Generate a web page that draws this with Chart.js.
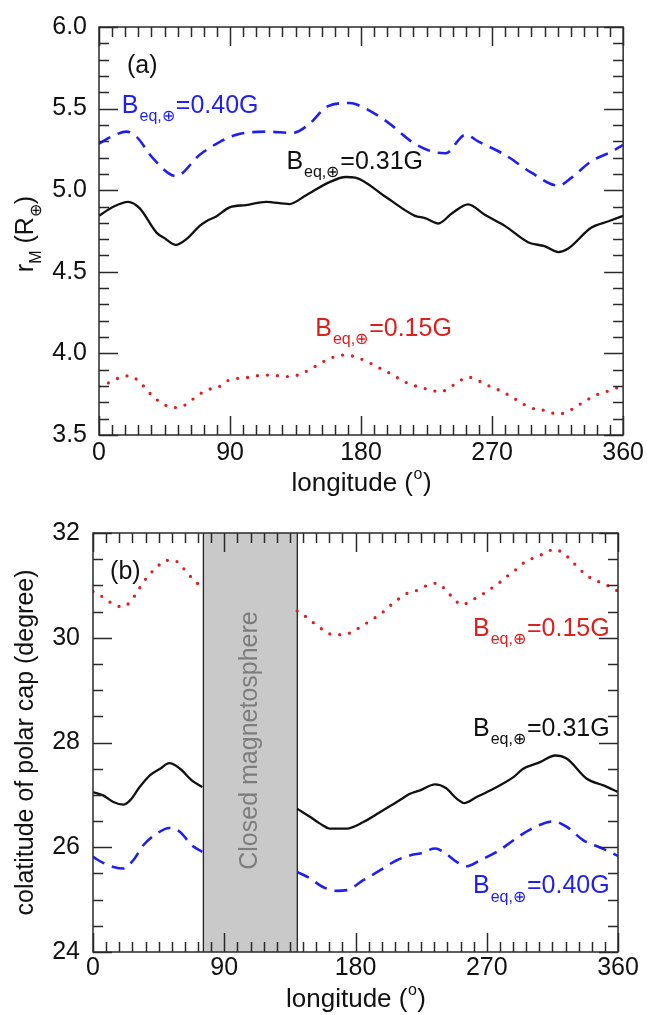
<!DOCTYPE html>
<html><head><meta charset="utf-8">
<script src="https://cdn.jsdelivr.net/npm/chart.js@4.4.1/dist/chart.umd.min.js"></script>
<style>
html,body{margin:0;padding:0;background:#fff;}
#wrap{position:relative;width:647px;height:1015px;background:#fff;}
canvas{position:absolute;left:0;}
</style></head><body>
<div id="wrap">
<canvas id="ca" width="647" height="505" style="top:0px"></canvas>
<canvas id="cb" width="647" height="510" style="top:505px"></canvas>
</div>
<script>
// ---------- Panel (a): magnetopause standoff distance r_M vs longitude ----------
const lonA_031 = [0,9.8,20,28,39.5,46,52.7,60,69,73.7,80.5,89.7,101,114.8,130.7,142,158,169.5,176,197,217,224,233,242.5,253.5,265,279,295,306,315.5,322,338,350,360];
const rA_031   = [4.843,4.899,4.929,4.889,4.740,4.700,4.665,4.700,4.780,4.810,4.839,4.895,4.909,4.929,4.915,4.968,5.048,5.081,5.077,4.958,4.843,4.829,4.796,4.859,4.913,4.849,4.780,4.680,4.657,4.621,4.641,4.770,4.810,4.843];

const lonA_040 = [0,9,19,26,37,53,69,83,94,115,133,144.4,157,171.8,176,197,215,229,238,251.6,261,279,297,315.5,324.6,338,352,360];
const rA_040   = [5.285,5.330,5.359,5.325,5.196,5.087,5.216,5.296,5.339,5.359,5.351,5.405,5.514,5.534,5.528,5.425,5.296,5.236,5.226,5.339,5.296,5.216,5.107,5.028,5.077,5.177,5.236,5.278];

const lonA_015 = [0,7,14,21,27,32,37,43,50,56.6,62.7,68.7,75,82,88.5,95,102.7,110,117.5,125,132,139,146,152,159,166,173,180,187,193.5,200,206.5,213,220,227,234.5,241,247,253.5,260,267,274,280.6,287,293,300,307.5,314,321,327.6,334,340.6,348,354,360];
const rA_015   = [3.798,3.821,3.851,3.863,3.832,3.786,3.736,3.698,3.668,3.673,3.708,3.748,3.778,3.794,3.833,3.847,3.853,3.865,3.867,3.861,3.857,3.877,3.907,3.940,3.970,3.990,3.986,3.966,3.937,3.907,3.877,3.843,3.813,3.794,3.778,3.764,3.792,3.827,3.855,3.835,3.804,3.778,3.748,3.714,3.682,3.658,3.649,3.629,3.639,3.674,3.708,3.742,3.764,3.784,3.800];

// ---------- Panel (b): colatitude of polar cap vs longitude ----------
const lonB_015 = [0,6.6,12.8,20,25.8,30,34,38.4,43.7,49.4,55.6,61.5,66.5,71.5,75,108,140,146,151.8,158,164.8,172,179,185.4,191.6,198,203.7,209.4,215.6,222.4,229.3,236,242,247,253,259.7,266,272.3,278.5,284,290,295.6,302.5,309.3,316.2,322.6,327.8,333.3,339,345.5,352,358.7,360];
const cB_015   = [30.882,30.781,30.660,30.590,30.692,30.863,31.035,31.200,31.340,31.479,31.479,31.340,31.181,31.041,30.940,null,30.514,30.400,30.273,30.146,30.057,30.057,30.133,30.241,30.352,30.470,30.610,30.737,30.851,30.908,31.003,31.041,30.908,30.756,30.629,30.718,30.813,30.927,31.048,31.175,31.302,31.434,31.530,31.606,31.689,31.613,31.479,31.321,31.181,31.086,31.010,30.908,30.890];

const lonB_031 = [0,7,14,20.8,25.4,32,39,46,52.3,59.7,67.7,75,108,140,149,155.7,162.5,174,185.4,197,208.3,217.4,224.3,234.6,242,249.4,254.5,263,274.6,288.3,295,306.6,316.9,325,338.6,350,360];
const cB_031   = [27.053,26.990,26.863,26.813,26.895,27.149,27.371,27.499,27.606,27.499,27.276,27.149,null,26.737,26.578,26.451,26.356,26.356,26.482,26.673,26.863,27.022,27.086,27.200,27.130,26.927,26.844,26.958,27.117,27.339,27.499,27.625,27.752,27.689,27.308,27.181,27.053];

const lonB_040 = [0,7,14,20.8,27.6,34.5,43.7,52.3,59.7,67.7,75,108,140,149,157,167,174,185.4,197,208.3,219.7,224.3,234.6,241.4,249.4,256.3,265.4,276.9,288.3,299.7,315.7,324.9,336.3,347.7,356.9,360];
const cB_040   = [25.815,25.701,25.625,25.594,25.752,26.038,26.260,26.368,26.292,26.038,25.911,null,25.530,25.403,25.250,25.168,25.181,25.371,25.562,25.752,25.861,25.880,25.975,25.892,25.720,25.638,25.752,25.911,26.133,26.337,26.495,26.387,26.133,25.994,25.880,25.830];

// closed magnetosphere longitude band
const closedBand = [75.7, 140.1];

// axis ticks
const lonTickStep = 90, lonMinorStep = 9;
const rTickStep = 0.5, rMinorStep = 0.1;
const cTickStep = 2, cMinorStep = 0.5;

const FONT = '"Liberation Sans", Arial, Helvetica, sans-serif';
const BLACK = '#111111', BLUE = '#1f1ff0', RED = '#dc1f1f';

function pts(xs, ys){ return xs.map((x,i)=>({x:x, y:ys[i]})); }

function drawB(ctx, x, y, color, rest, size){
  ctx.save();
  ctx.fillStyle = color; ctx.textAlign='left'; ctx.textBaseline='alphabetic';
  ctx.font = size+'px '+FONT;
  ctx.fillText('B', x, y);
  const w1 = ctx.measureText('B').width;
  const ss = Math.round(size*0.62);
  ctx.font = ss+'px '+FONT;
  ctx.fillText('eq,\u2295', x+w1+1, y+size*0.34);
  const w2 = ctx.measureText('eq,\u2295').width;
  ctx.font = size+'px '+FONT;
  ctx.fillText(rest, x+w1+w2+2, y);
  ctx.restore();
}

const textPlugin = {
  id:'texts',
  afterDatasetsDraw(chart, args, opts){
    const ctx = chart.ctx, xs = chart.scales.x, ys = chart.scales.y;
    (opts.items||[]).forEach(it=>{
      const px = xs.getPixelForValue(it.lon), py = ys.getPixelForValue(it.val);
      if (it.kind==='B') drawB(ctx, px, py, it.color, it.text, 25);
      else {
        ctx.save(); ctx.fillStyle=it.color; ctx.font='25px '+FONT;
        ctx.textAlign='left'; ctx.textBaseline='alphabetic';
        ctx.fillText(it.text, px, py); ctx.restore();
      }
    });
  }
};

const bandPlugin = {
  id:'band',
  beforeDatasetsDraw(chart, args, opts){
    if (!opts.range) return;
    const ctx = chart.ctx, a = chart.chartArea, xs = chart.scales.x;
    const x0 = xs.getPixelForValue(opts.range[0]), x1 = xs.getPixelForValue(opts.range[1]);
    ctx.save();
    ctx.fillStyle = '#c9c9c9';
    ctx.fillRect(x0, a.top, x1-x0, a.bottom-a.top);
    ctx.strokeStyle = '#222'; ctx.lineWidth = 1.3;
    ctx.beginPath(); ctx.moveTo(x0,a.top); ctx.lineTo(x0,a.bottom); ctx.moveTo(x1,a.top); ctx.lineTo(x1,a.bottom); ctx.stroke();
    ctx.translate((x0+x1)/2, (a.top+a.bottom)/2 - 2);
    ctx.rotate(-Math.PI/2);
    ctx.fillStyle = '#7d7d7d'; ctx.font = '25px '+FONT;
    ctx.textAlign='center'; ctx.textBaseline='middle';
    ctx.fillText(opts.label, 0, 0);
    ctx.restore();
  }
};

const framePlugin = {
  id:'frame',
  afterDraw(chart, args, opts){
    const ctx = chart.ctx, a = chart.chartArea, xs = chart.scales.x, ys = chart.scales.y;
    ctx.save();
    ctx.strokeStyle = '#2a2a2a'; ctx.lineWidth = 1.5;
    ctx.beginPath();
    for (let v = xs.min; v <= xs.max + 1e-9; v += opts.xMinor) {
      const major = Math.abs(v/opts.xMajor - Math.round(v/opts.xMajor)) < 1e-6;
      const len = major ? 19 : 10;
      const px = Math.round(xs.getPixelForValue(v)) + 0.5;
      ctx.moveTo(px, a.bottom); ctx.lineTo(px, a.bottom - len);
      ctx.moveTo(px, a.top); ctx.lineTo(px, a.top + len);
    }
    const n = Math.round((ys.max - ys.min)/opts.yMinor);
    for (let i = 0; i <= n; i++) {
      const v = ys.min + i*opts.yMinor;
      const major = Math.abs(v/opts.yMajor - Math.round(v/opts.yMajor)) < 1e-6;
      const len = major ? 19 : 10;
      const py = Math.round(ys.getPixelForValue(v)) + 0.5;
      ctx.moveTo(a.left, py); ctx.lineTo(a.left + len, py);
      ctx.moveTo(a.right, py); ctx.lineTo(a.right - len, py);
    }
    ctx.stroke();
    ctx.strokeRect(a.left, a.top, a.right-a.left, a.bottom-a.top);
    ctx.restore();

    // x title: longitude (o)
    ctx.save();
    ctx.fillStyle = '#111';
    const size = 26;
    const p1 = 'longitude (', p3 = ')';
    ctx.font = size+'px '+FONT;
    const w1 = ctx.measureText(p1).width, w3 = ctx.measureText(p3).width;
    ctx.font = Math.round(size*0.6)+'px '+FONT;
    const w2 = ctx.measureText('o').width;
    let sx = (a.left+a.right)/2 - (w1+w2+w3)/2 + opts.xTitleDx;
    const by = opts.xTitleY;
    ctx.textAlign='left'; ctx.textBaseline='alphabetic';
    ctx.font = size+'px '+FONT; ctx.fillText(p1, sx, by);
    ctx.font = Math.round(size*0.6)+'px '+FONT; ctx.fillText('o', sx+w1+0.5, by - size*0.45);
    ctx.font = size+'px '+FONT; ctx.fillText(p3, sx+w1+w2+1, by);
    ctx.restore();

    // y title (rotated)
    const ysize = 25;
    ctx.save();
    ctx.translate(opts.yTitleX, (a.top+a.bottom)/2 + opts.yTitleDy);
    ctx.rotate(-Math.PI/2);
    ctx.fillStyle = '#111'; ctx.textAlign='left'; ctx.textBaseline='alphabetic';
    const parts = opts.yTitle;
    let tot = 0;
    parts.forEach(p=>{ ctx.font = (p[1]?Math.round(ysize*0.62):ysize)+'px '+FONT; tot += ctx.measureText(p[0]).width; });
    let cx = -tot/2;
    parts.forEach(p=>{
      ctx.font = (p[1]?Math.round(ysize*0.62):ysize)+'px '+FONT;
      ctx.fillText(p[0], cx, p[1] ? ysize*0.3 : 0);
      cx += ctx.measureText(p[0]).width;
    });
    ctx.restore();
  }
};

Chart.register(textPlugin, bandPlugin, framePlugin);

function lineDs(data, color, style){
  const ds = {data, borderColor:color, backgroundColor:color, pointRadius:0, fill:false,
    cubicInterpolationMode:'monotone', spanGaps:false, borderWidth:2.3};
  if (style==='dash'){ ds.borderDash=[13,8]; ds.borderWidth=2.6; }
  if (style==='dot'){ ds.borderDash=[0,10]; ds.borderCapStyle='round'; ds.borderWidth=3.3; }
  return ds;
}

function makeChart(id, cfg){
  return new Chart(document.getElementById(id), {
    type:'line',
    data:{datasets: cfg.datasets},
    options:{
      responsive:false, animation:false, devicePixelRatio:1,
      layout:{autoPadding:false, padding:{top:cfg.pad.top, right:cfg.pad.right, left:0, bottom:0}},
      plugins:{
        legend:{display:false}, tooltip:{enabled:false},
        texts:{items:cfg.items},
        band:cfg.band || {},
        frame:cfg.frame
      },
      scales:{
        x:{type:'linear', min:0, max:360,
          grid:{display:false, drawTicks:false}, border:{display:false},
          afterFit:s=>{ s.height = cfg.xH; },
          ticks:{stepSize:lonTickStep, padding:cfg.xPad, color:'#111', font:{family:FONT, size:25}, maxRotation:0}},
        y:{type:'linear', min:cfg.ymin, max:cfg.ymax,
          grid:{display:false, drawTicks:false}, border:{display:false},
          afterFit:s=>{ s.width = cfg.yW; },
          ticks:{stepSize:cfg.ystep, padding:cfg.yPad, color:'#111', font:{family:FONT, size:25},
            callback:v=>cfg.fmt(v)}}
      }
    }
  });
}

makeChart('ca', {
  datasets:[
    lineDs(pts(lonA_040, rA_040), BLUE, 'dash'),
    lineDs(pts(lonA_031, rA_031), BLACK, 'solid'),
    lineDs(pts(lonA_015, rA_015), RED, 'dot')
  ],
  pad:{top:15, right:22}, xH:70, yW:99, xPad:3, yPad:12,
  ymin:3.5, ymax:6.0, ystep:rTickStep, fmt:v=>v.toFixed(1),
  items:[
    {kind:'t', text:'(a)', lon:19.2, val:5.72, color:'#111'},
    {kind:'B', text:'=0.40G', lon:15.7, val:5.476, color:BLUE},
    {kind:'B', text:'=0.31G', lon:128.7, val:5.131, color:BLACK},
    {kind:'B', text:'=0.15G', lon:148.5, val:4.107, color:RED}
  ],
  frame:{xMinor:lonMinorStep, xMajor:lonTickStep, yMinor:rMinorStep, yMajor:rTickStep,
    xTitleY:491, xTitleDx:0, yTitleX:33, yTitleDy:3,
    yTitle:[['r',0],['M',1],[' (R',0],['\u2295',1],[')',0]]}
});

makeChart('cb', {
  datasets:[
    lineDs(pts(lonB_040, cB_040), BLUE, 'dash'),
    lineDs(pts(lonB_031, cB_031), BLACK, 'solid'),
    lineDs(pts(lonB_015, cB_015), RED, 'dot')
  ],
  pad:{top:27, right:29}, xH:63, yW:93, xPad:1, yPad:13,
  ymin:24, ymax:32, ystep:cTickStep, fmt:v=>String(v),
  band:{range:closedBand, label:'Closed magnetosphere'},
  items:[
    {kind:'t', text:'(b)', lon:11.7, val:31.124, color:'#111'},
    {kind:'B', text:'=0.15G', lon:260.6, val:30.038, color:RED},
    {kind:'B', text:'=0.31G', lon:260.6, val:28.133, color:BLACK},
    {kind:'B', text:'=0.40G', lon:260.6, val:25.124, color:BLUE}
  ],
  frame:{xMinor:lonMinorStep, xMajor:lonTickStep, yMinor:cMinorStep, yMajor:cTickStep,
    xTitleY:502, xTitleDx:0, yTitleX:33, yTitleDy:0,
    yTitle:[['colatitude of polar cap (degree)',0]]}
});
</script>
</body></html>
